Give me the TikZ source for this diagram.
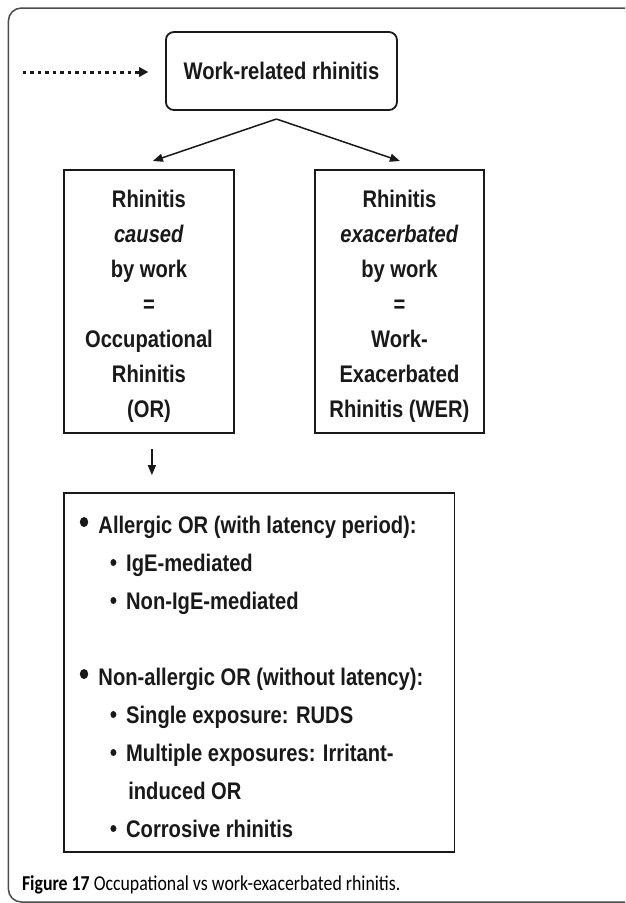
\documentclass[tikz,border=0pt]{standalone}
\usepackage{fontspec}
\setmainfont{Liberation Sans}
\newfontfamily\capfont{Carlito}
\usetikzlibrary{arrows.meta,calc}
\begin{document}
\begin{tikzpicture}[x=1pt,y=1pt,xscale=0.8401,transform shape,
  box/.style={draw=black!90, line width=1.8pt, inner sep=0pt},
  lbl/.style={font=\bfseries\fontsize{24}{35.1}\selectfont, align=center, inner sep=0pt, text=black!90},
  item/.style={font=\bfseries\fontsize{24}{29}\selectfont, anchor=base west, inner sep=0pt, text=black!90},
  arr/.style={line width=1.5pt, draw=black!90, -{Triangle[length=10pt,width=8pt]}},
  dotarr/.style={line width=3pt, draw=black!90, dash pattern=on 3.5pt off 4pt, -{Triangle[length=9pt,width=10pt,line width=0pt]}},
  bigdot/.style={circle, fill=black!90, inner sep=0pt, minimum size=10pt},
  smalldot/.style={circle, fill=black!90, inner sep=0pt, minimum size=7pt},
]
\useasboundingbox (0,0) rectangle (744,-903);
\fill[white] (0,0) rectangle (744,-903);
\begin{scope}
  \clip (0,0) rectangle (744,-903);
  \draw[black!70, line width=1.5pt, rounded corners=13pt] (760,-8) -- (10,-8) -- (10,-902) -- (760,-902);
\end{scope}

% top box
\node[box, rounded corners=8pt, minimum width=275pt, minimum height=78pt,
      font=\bfseries\fontsize{24}{29}\selectfont, text=black!90] (top) at (335,-71) {Work-related rhinitis};

% dotted arrow
\coordinate (ds) at (27,-72);
\draw[dotarr, shorten >=17pt] (ds) -- (top.west |- ds);

% two boxes
\node[box, minimum width=202.5pt, minimum height=263pt] (lbox) at (177.3,-301.5) {};
\node[box, minimum width=201pt, minimum height=263pt] (rbox) at (475.5,-301.5) {};
\node[lbl, anchor=north] (ltxt) at (177.3,-189.8) {Rhinitis\\\textit{caused}\\by work\\=\\Occupational\\Rhinitis\\(OR)};
\node[lbl, anchor=north] (rtxt) at (475.5,-189.8) {Rhinitis\\\textit{exacerbated}\\by work\\=\\Work-\\Exacerbated\\Rhinitis (WER)};

% fork arrows
\coordinate (fork) at (329,-119);
\coordinate (la) at (182,-161);
\coordinate (ra) at (476,-161);
\draw[arr] (fork) -- (la);
\draw[arr] (fork) -- (ra);

% bottom box
\node[box, minimum width=465pt, minimum height=359pt] (obox) at (308.5,-672.5) {};
\draw[arr, shorten <=15pt, shorten >=17pt] ([xshift=3.5pt]lbox.south) -- ([xshift=3.5pt]lbox.south |- obox.north);

% items
\node[item] (i1) at (117,-533) {Allergic OR (with latency period):};
\node[item] (i2) at (150,-571) {IgE-mediated};
\node[item] (i3) at (150,-609) {Non-IgE-mediated};
\node[item] (i4) at (117,-685) {Non-allergic OR (without latency):};
\node[item] (i5) at (150,-723) {Single exposure: RUDS};
\node[item] (i6) at (150,-761) {Multiple exposures: Irritant-};
\node[item] (i7) at (152.5,-799) {induced OR};
\node[item] (i8) at (150,-837) {Corrosive rhinitis};
\node[bigdot] (b1) at (100,-522) {};
\node[bigdot] (b4) at (100,-674) {};
\node[smalldot] (b2) at (135,-562.5) {};
\node[smalldot] (b3) at (135,-600.5) {};
\node[smalldot] (b5) at (135,-714.5) {};
\node[smalldot] (b6) at (135,-752.5) {};
\node[smalldot] (b8) at (135,-828.5) {};

% caption
\node[anchor=base west, inner sep=0pt, font=\capfont\fontsize{21.2}{25}\selectfont] (cap) at (26,-890)
  {\textbf{Figure 17} Occupational vs work-exacerbated rhinitis.};
\end{tikzpicture}
\end{document}
